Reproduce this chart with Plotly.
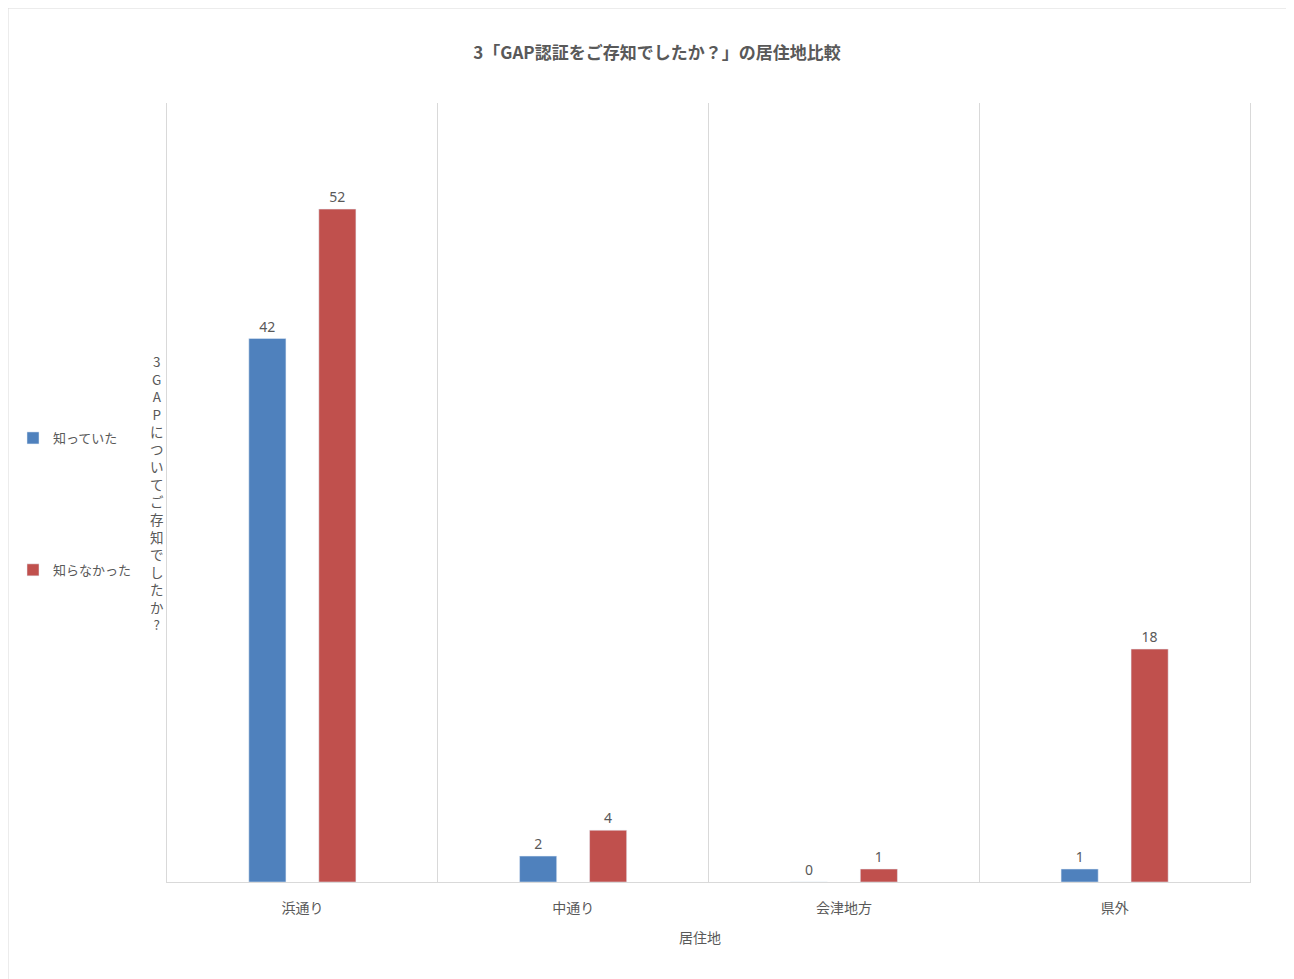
import plotly.graph_objects as go

categories = ["浜通り", "中通り", "会津地方", "県外"]
knew = [42, 2, 0, 1]
not_knew = [52, 4, 1, 18]
series_names = ["知っていた", "知らなかった"]
title_text = "3「GAP認証をご存知でしたか？」の居住地比較"
y_title = "3GAPについてご存知でしたか?"
x_title = "居住地"

FONT = "Noto Sans CJK JP"
GRAY = "#595959"
LINE = "#D9D9D9"

fig = go.Figure()
fig.add_trace(go.Bar(
    x=categories, y=knew, name=series_names[0], marker_color="#4F81BD",
    text=knew, texttemplate="%{text}", textposition="outside",
    textfont=dict(family="Liberation Sans Narrow, Noto Sans", size=14, color=GRAY),
    cliponaxis=False, legendgroup="a",
))
fig.add_trace(go.Bar(
    x=categories, y=not_knew, name=series_names[1], marker_color="#C0504D",
    text=not_knew, texttemplate="%{text}", textposition="outside",
    textfont=dict(family="Liberation Sans Narrow, Noto Sans", size=14, color=GRAY),
    cliponaxis=False, legendgroup="b",
))

# figure is placed at a page offset of 8 px
W, H = 1283, 971
L, T = 159, 95
R = W - 1242
B = H - 874
pw, ph = W - L - R, H - T - B

def px_x(x):
    return (x - L) / pw

def px_y(y):
    return (H - B - y) / ph

fig.update_layout(
    width=W, height=H,
    margin=dict(l=L, r=R, t=T, b=B, autoexpand=False),
    paper_bgcolor="white", plot_bgcolor="white",
    barmode="group", bargap=0.483, bargroupgap=0.47,
    font=dict(family=FONT, color=GRAY),
    title=dict(text="<b>" + title_text + "</b>", x=649 / W, xanchor="center", y=1 - 45 / H, yanchor="middle",
               font=dict(family=FONT, size=17, color=GRAY)),
    showlegend=True,
    legend=dict(xref="container", yref="container", x=5 / W, xanchor="left",
                y=1 - 415 / H, yanchor="top",
                tracegroupgap=112, font=dict(family=FONT, size=13, color=GRAY),
                bgcolor="rgba(0,0,0,0)"),
    xaxis=dict(tickson="boundaries", showgrid=True, gridcolor=LINE, gridwidth=1,
               showline=True, linecolor=LINE, linewidth=1, ticks="",
               ticklabelstandoff=13,
               tickfont=dict(family=FONT, size=14, color=GRAY)),
    yaxis=dict(range=[0, 60.2], showgrid=False, showticklabels=False, zeroline=False,
               showline=True, mirror=True, linecolor=LINE, linewidth=1, ticks=""),
)

fig.add_annotation(
    text=x_title, xref="paper", yref="paper",
    x=px_x(692), y=px_y(929), xanchor="center", yanchor="middle",
    showarrow=False, font=dict(family=FONT, size=14, color=GRAY),
)

fig.add_annotation(
    text="<br>".join(list(y_title)), xref="paper", yref="paper",
    x=px_x(149), y=px_y(484), xanchor="center", yanchor="middle",
    showarrow=False, font=dict(family=FONT, size=13.5, color=GRAY),
)

fig.add_shape(type="rect", xref="paper", yref="paper",
              x0=px_x(0), x1=px_x(W - 1), y0=px_y(H + 5), y1=px_y(0),
              line=dict(color=LINE, width=1), layer="below")

fig.write_html("out.html")
